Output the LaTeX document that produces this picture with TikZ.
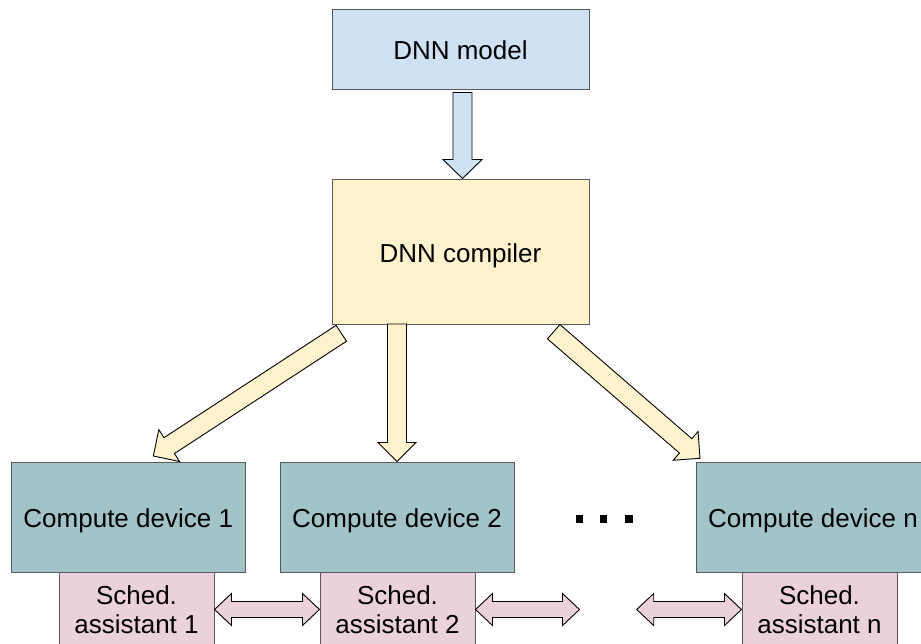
\documentclass[tikz,border=0pt]{standalone}
\usepackage{fontspec}
\setmainfont{Liberation Sans}
\usetikzlibrary{calc}
\definecolor{modelfill}{HTML}{CFE2F3}
\definecolor{compfill}{HTML}{FFF2CC}
\definecolor{devfill}{HTML}{A2C4C9}
\definecolor{schedfill}{HTML}{EAD1DC}
\definecolor{boxline}{HTML}{595959}
\tikzset{
  box/.style={draw=boxline, line width=1pt, inner sep=0pt, align=center,
    font=\fontsize{26}{29}\selectfont},
  onebox/.style={box, text height=23pt, text depth=2pt},
  fatline/.style={draw=black, line width=0.9pt, line join=miter},
  dotbox/.style={fill=black, minimum size=7.5pt, inner sep=0pt}
}
% #1 from, #2 to, #3 shaft half width, #4 head half width, #5 head length, #6 fill
\newcommand\fatarrow[6]{%
  \coordinate (fa-a) at (#1);
  \coordinate (fa-b) at (#2);
  \coordinate (fa-h) at ($(fa-b)!#5!(fa-a)$);
  \filldraw[fatline, fill=#6]
    ($(fa-a)!#3!90:(fa-b)$) -- ($(fa-h)!#3!90:(fa-b)$) -- ($(fa-h)!#4!90:(fa-b)$)
    -- (fa-b) -- ($(fa-h)!#4!-90:(fa-b)$) -- ($(fa-h)!#3!-90:(fa-b)$)
    -- ($(fa-a)!#3!-90:(fa-b)$) -- cycle;
}
\newcommand\fatdarrow[6]{%
  \coordinate (fa-a) at (#1);
  \coordinate (fa-b) at (#2);
  \coordinate (fa-h1) at ($(fa-a)!#5!(fa-b)$);
  \coordinate (fa-h2) at ($(fa-b)!#5!(fa-a)$);
  \filldraw[fatline, fill=#6]
    (fa-a) -- ($(fa-h1)!#4!90:(fa-b)$) -- ($(fa-h1)!#3!90:(fa-b)$)
    -- ($(fa-h2)!#3!90:(fa-b)$) -- ($(fa-h2)!#4!90:(fa-b)$) -- (fa-b)
    -- ($(fa-h2)!#4!-90:(fa-b)$) -- ($(fa-h2)!#3!-90:(fa-b)$)
    -- ($(fa-h1)!#3!-90:(fa-b)$) -- ($(fa-h1)!#4!-90:(fa-b)$) -- cycle;
}
\begin{document}
\begin{tikzpicture}[x=1pt, y=-1pt]
\clip (0,0) rectangle (921,643);
\fill[white] (0,0) rectangle (921,643);

% boxes
\node[onebox, fill=modelfill, minimum width=257pt, minimum height=80pt] (model) at (460.5,49) {DNN model};
\node[onebox, fill=compfill, minimum width=257pt, minimum height=145pt] (comp) at (460.5,251.5) {DNN compiler};

\node[box, fill=schedfill, minimum width=155pt, minimum height=76pt] (s1) at (136.5,610) {Sched.\\assistant 1};
\node[box, fill=schedfill, minimum width=155pt, minimum height=76pt] (s2) at (397.5,610) {Sched.\\assistant 2};
\node[box, fill=schedfill, minimum width=155pt, minimum height=76pt] (sn) at (819.5,610) {Sched.\\assistant n};

\node[onebox, fill=devfill, minimum width=234.5pt, minimum height=110pt] (d1) at (128.25,517) {Compute device 1};
\node[onebox, fill=devfill, minimum width=234pt, minimum height=110pt] (d2) at (397,517) {Compute device 2};
\node[onebox, fill=devfill, minimum width=234pt, minimum height=110pt] (dn) at (813,517) {Compute device n};

% dots
\node[dotbox] (dot1) at (579.5,519) {};
\node[dotbox] (dot2) at (603.5,519) {};
\node[dotbox] (dot3) at (629,519) {};

% arrow end points
\coordinate (m-s) at ($(model.south)+(2,3)$);
\coordinate (c-n) at ($(comp.north)+(2,0)$);
\coordinate (c-l) at (341.3,333.3);
\coordinate (c-m) at (397,324);
\coordinate (c-r) at (553.7,331.7);
\coordinate (d1-t) at (153.3,456);
\coordinate (d2-t) at (d2.north);
\coordinate (dn-t) at (700,458.3);
\coordinate (s1-e) at (s1.east |- 0,609.5);
\coordinate (s2-w) at (s2.west |- 0,609.5);
\coordinate (s2-e) at (s2.east |- 0,609.5);
\coordinate (gap-l) at (579.5,609.5);
\coordinate (gap-r) at (636.7,609.5);
\coordinate (sn-w) at (sn.west |- 0,609.5);

% arrows
\fatarrow{m-s}{c-n}{9.5pt}{19.5pt}{19pt}{modelfill}
\fatarrow{c-l}{d1-t}{9.5pt}{19pt}{19pt}{compfill}
\fatarrow{c-m}{d2-t}{9.5pt}{19pt}{19pt}{compfill}
\fatarrow{c-r}{dn-t}{9.5pt}{19pt}{19pt}{compfill}

\fatdarrow{s1-e}{s2-w}{8pt}{16pt}{17pt}{schedfill}
\fatdarrow{s2-e}{gap-l}{8pt}{16pt}{17pt}{schedfill}
\fatdarrow{gap-r}{sn-w}{8pt}{16pt}{17pt}{schedfill}
\end{tikzpicture}
\end{document}
